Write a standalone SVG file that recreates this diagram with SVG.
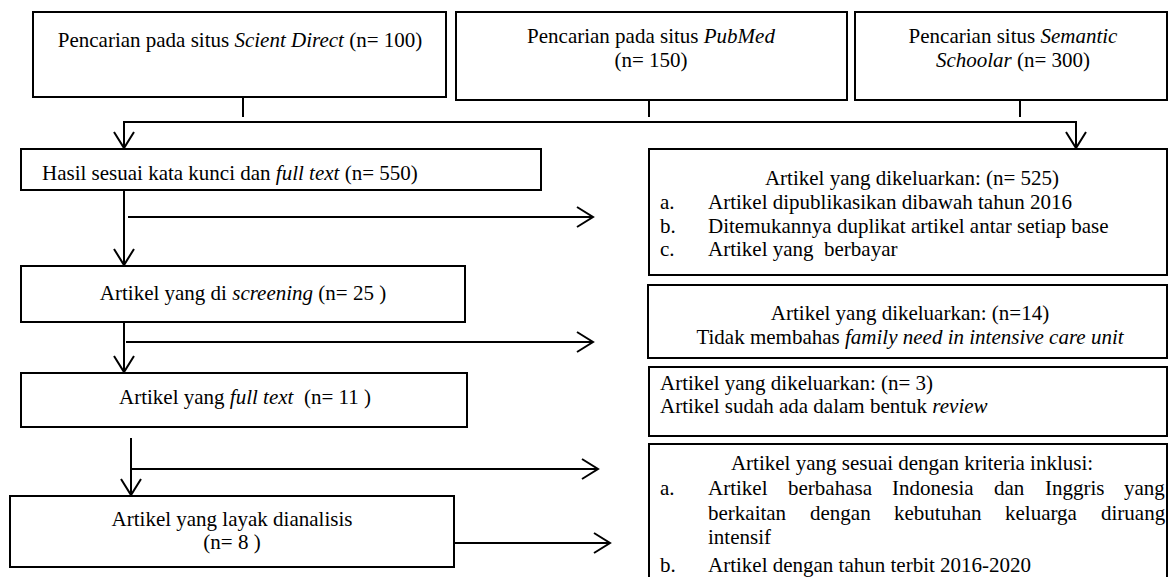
<svg xmlns="http://www.w3.org/2000/svg" width="1169" height="577" viewBox="0 0 1169 577">
<style>
.box{fill:#fff;stroke:#000;stroke-width:2}
.t{font-size:21px;fill:#000}
.c{text-anchor:middle}
.i{font-style:italic}
.ln{fill:none;stroke:#000;stroke-width:2}
.pre{white-space:pre}
</style>
<defs>
<marker id="ah" markerUnits="userSpaceOnUse" markerWidth="22" markerHeight="26" refX="18" refY="12" orient="auto" overflow="visible">
<path d="M2,2 L18,12 L2,22" fill="none" stroke="#000" stroke-width="2"/>
</marker>
</defs>
<rect width="1169" height="577" fill="#fff"/>

<g id="connectors">
<line class="ln" x1="243" y1="97" x2="243" y2="117"/>
<line class="ln" x1="649" y1="100" x2="649" y2="117"/>
<line class="ln" x1="1020" y1="100" x2="1020" y2="117"/>
<path class="ln" d="M124,122 H1076"/>
<path class="ln" d="M124,121 V148" marker-end="url(#ah)"/>
<path class="ln" d="M1076,121 V148" marker-end="url(#ah)"/>
<path class="ln" d="M124,190 V265" marker-end="url(#ah)"/>
<path class="ln" d="M128,217 H593" marker-end="url(#ah)"/>
<path class="ln" d="M124,322 V372" marker-end="url(#ah)"/>
<path class="ln" d="M126,342 H593" marker-end="url(#ah)"/>
<path class="ln" d="M131,438 V495" marker-end="url(#ah)"/>
<path class="ln" d="M131,469 H598" marker-end="url(#ah)"/>
<path class="ln" d="M454,543 H610" marker-end="url(#ah)"/>
</g>

<g font-family="Liberation Serif, serif">
<g id="scientdirect">
<rect class="box" x="33" y="12" width="413" height="85"/>
<text class="t c" x="240" y="47">Pencarian pada situs <tspan class="i">Scient Direct</tspan> (n= 100)</text>
</g>
<g id="pubmed">
<rect class="box" x="456" y="12" width="391" height="88"/>
<text class="t c" x="651" y="43">Pencarian pada situs <tspan class="i">PubMed</tspan></text>
<text class="t c" x="651" y="67">(n= 150)</text>
</g>
<g id="semantic">
<rect class="box" x="855" y="12" width="312" height="88"/>
<text class="t c" x="1013" y="43">Pencarian situs <tspan class="i">Semantic</tspan></text>
<text class="t c" x="1013" y="67"><tspan class="i">Schoolar</tspan> (n= 300)</text>
</g>

<g id="hasil">
<rect class="box" x="21" y="149" width="520" height="41"/>
<text class="t" x="42" y="180">Hasil sesuai kata kunci dan <tspan class="i">full text</tspan> (n= 550)</text>
</g>
<g id="screening">
<rect class="box" x="21" y="266" width="444" height="56"/>
<text class="t c" x="243" y="300">Artikel yang di <tspan class="i">screening</tspan> (n= 25 )</text>
</g>
<g id="fulltext">
<rect class="box" x="21" y="373" width="446" height="54"/>
<text class="t c pre" x="245" y="404">Artikel yang <tspan class="i">full text</tspan>  (n= 11 )</text>
</g>
<g id="layak">
<rect class="box" x="10" y="496" width="444" height="71"/>
<text class="t c" x="232" y="526">Artikel yang layak dianalisis</text>
<text class="t c" x="232" y="549">(n= 8 )</text>
</g>

<g id="excluded525">
<rect class="box" x="649" y="149" width="518" height="126"/>
<text class="t c" x="912" y="185">Artikel yang dikeluarkan: (n= 525)</text>
<text class="t" x="660" y="209">a.</text>
<text class="t" x="708" y="209">Artikel dipublikasikan dibawah tahun 2016</text>
<text class="t" x="660" y="233">b.</text>
<text class="t" x="708" y="233">Ditemukannya duplikat artikel antar setiap base</text>
<text class="t" x="660" y="256">c.</text>
<text class="t pre" x="708" y="256">Artikel yang  berbayar</text>
</g>
<g id="excluded14">
<rect class="box" x="648" y="285" width="519" height="73"/>
<text class="t c" x="910" y="320">Artikel yang dikeluarkan: (n=14)</text>
<text class="t c" x="910" y="344">Tidak membahas <tspan class="i">family need in intensive care unit</tspan></text>
</g>
<g id="excluded3">
<rect class="box" x="649" y="367" width="518" height="69"/>
<text class="t" x="660" y="390">Artikel yang dikeluarkan: (n= 3)</text>
<text class="t" x="660" y="413">Artikel sudah ada dalam bentuk <tspan class="i">review</tspan></text>
</g>
<g id="inklusi">
<rect class="box" x="649" y="444" width="518" height="150"/>
<text class="t c" x="912" y="470">Artikel yang sesuai dengan kriteria inklusi:</text>
<text class="t" x="660" y="495">a.</text>
<text class="t" y="495"><tspan x="708">Artikel</tspan><tspan x="788">berbahasa</tspan><tspan x="892">Indonesia</tspan><tspan x="994">dan</tspan><tspan x="1045">Inggris</tspan><tspan x="1124">yang</tspan></text>
<text class="t" y="520"><tspan x="708">berkaitan</tspan><tspan x="810">dengan</tspan><tspan x="894">kebutuhan</tspan><tspan x="1005">keluarga</tspan><tspan x="1101">diruang</tspan></text>
<text class="t" x="708" y="544">intensif</text>
<text class="t" x="660" y="572">b.</text>
<text class="t" x="708" y="572">Artikel dengan tahun terbit 2016-2020</text>
</g>
</g>
</svg>
